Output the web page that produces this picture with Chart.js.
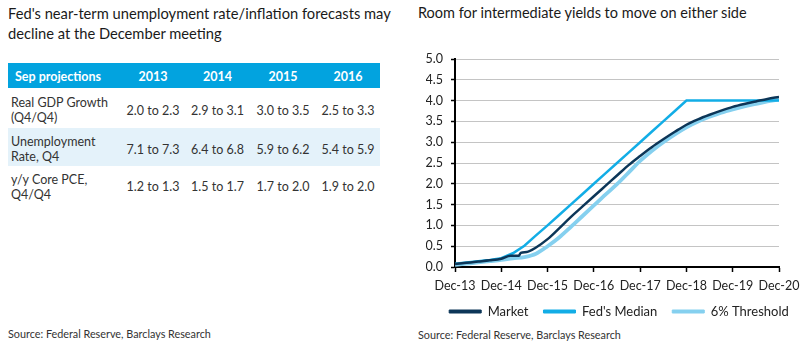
<!DOCTYPE html>
<html><head><meta charset="utf-8">
<script src="https://cdn.jsdelivr.net/npm/chart.js@4.4.1/dist/chart.umd.min.js"></script>
<style>
html,body{margin:0;padding:0}
body{width:812px;height:345px;background:#fff;font-family:Lato,"Open Sans",sans-serif;color:#222;position:relative;overflow:hidden}
.t{position:absolute;white-space:nowrap}
.title{line-height:20px;color:#1a1a1a}
.src{font-size:10.8px;color:#333}
table{position:absolute;left:8px;top:63px;border-collapse:collapse;font-size:12.5px;line-height:15px;color:#333}
th{background:#02a3df;color:#fff;font-weight:700;height:25px;padding:2px 0 0 0;box-sizing:border-box;font-size:12.5px}
td{padding:4px 0 0 0}
td.lab{text-align:left;padding-left:3px}
th.lab{text-align:left;padding-left:7px}
td.val,th.val{text-align:center}
tr.alt td{background:#e4f2fa}
#chartBox{position:absolute;left:405px;top:40px;width:407px;height:290px}
</style></head><body>
<div class="t title" style="left:8px;top:3px;font-size:14.7px">Fed's near-term unemployment rate/inflation forecasts may<br>decline at the December meeting</div>
<div class="t title" style="left:418px;top:3px;font-size:14.5px">Room for intermediate yields to move on either side</div>
<table id="tbl"></table>
<div class="t src" style="left:8px;top:327px">Source: Federal Reserve, Barclays Research</div>
<div class="t src" style="left:418px;top:328px">Source: Federal Reserve, Barclays Research</div>
<div id="chartBox"><canvas id="c" width="407" height="290"></canvas></div>
<script>
// ---- table data ----
const tableHeader = 'Sep projections';
const tableYears = ['2013', '2014', '2015', '2016'];
const rowLabels = [['Real GDP Growth', '(Q4/Q4)'], ['Unemployment', 'Rate, Q4'], ['y/y Core PCE,', 'Q4/Q4']];
const gdpRange = ['2.0 to 2.3', '2.9 to 3.1', '3.0 to 3.5', '2.5 to 3.3'];
const unempRange = ['7.1 to 7.3', '6.4 to 6.8', '5.9 to 6.2', '5.4 to 5.9'];
const pceRange = ['1.2 to 1.3', '1.5 to 1.7', '1.7 to 2.0', '1.9 to 2.0'];

// ---- chart data ----
const xTickLabels = ['Dec-13', 'Dec-14', 'Dec-15', 'Dec-16', 'Dec-17', 'Dec-18', 'Dec-19', 'Dec-20'];
const seriesNames = ['Market', "Fed's Median", '6% Threshold'];
// years since Dec-13
const quarterT = [0, 0.25, 0.5, 0.75, 1, 1.25, 1.5, 1.75, 2, 2.25, 2.5, 2.75, 3, 3.25, 3.5, 3.75, 4, 4.25, 4.5, 4.75, 5, 5.25, 5.5, 5.75, 6, 6.25, 6.5, 6.75, 7];
const fedMedian = [0.08, 0.11, 0.14, 0.17, 0.21, 0.33, 0.51, 0.76, 1.00, 1.25, 1.50, 1.75, 2.00, 2.25, 2.50, 2.75, 3.00, 3.25, 3.50, 3.75, 4.00, 4.00, 4.00, 4.00, 4.00, 4.00, 4.00, 4.00, 4.00];
const threshold = [0.05, 0.08, 0.11, 0.14, 0.17, 0.21, 0.24, 0.32, 0.50, 0.71, 0.96, 1.22, 1.48, 1.74, 1.99, 2.27, 2.55, 2.79, 3.00, 3.19, 3.36, 3.50, 3.61, 3.71, 3.79, 3.86, 3.92, 3.98, 4.03];
const marketT = [0, 0.25, 0.5, 0.75, 1, 1.2, 1.38, 1.42, 1.55, 1.75, 2, 2.25, 2.5, 2.75, 3, 3.25, 3.5, 3.75, 4, 4.25, 4.5, 4.75, 5, 5.25, 5.5, 5.75, 6, 6.25, 6.5, 6.75, 7];
const market = [0.07, 0.10, 0.13, 0.16, 0.20, 0.27, 0.27, 0.34, 0.36, 0.47, 0.67, 0.93, 1.20, 1.45, 1.70, 1.95, 2.20, 2.45, 2.67, 2.88, 3.07, 3.25, 3.42, 3.55, 3.66, 3.76, 3.85, 3.92, 3.98, 4.04, 4.09];

// build table
(function () {
  const tbl = document.getElementById('tbl');
  const widths = [113, 64, 65, 66, 64];
  let html = '<colgroup>' + widths.map(w => '<col style="width:' + w + 'px">').join('') + '</colgroup>';
  html += '<tr><th class="lab">' + tableHeader + '</th>' + tableYears.map(y => '<th class="val">' + y + '</th>').join('') + '</tr>';
  const rows = [gdpRange, unempRange, pceRange];
  const heights = [40, 38, 37];
  rows.forEach((r, i) => {
    html += '<tr class="' + (i === 1 ? 'alt' : '') + '" style="height:' + heights[i] + 'px"><td class="lab">' + rowLabels[i].join('<br>') + '</td>' +
      r.map(v => '<td class="val">' + v + '</td>').join('') + '</tr>';
  });
  tbl.innerHTML = html;
})();

const mk = (xs, ys) => xs.map((x, i) => ({ x: x, y: ys[i] }));

new Chart(document.getElementById('c'), {
  type: 'line',
  data: {
    datasets: [
      { label: seriesNames[0], data: mk(marketT, market), borderColor: '#0c3658', backgroundColor: '#0c3658', borderWidth: 2.5, pointRadius: 0, cubicInterpolationMode: 'monotone' },
      { label: seriesNames[1], data: mk(quarterT, fedMedian), borderColor: '#12ade6', backgroundColor: '#12ade6', borderWidth: 2.5, pointRadius: 0, tension: 0 },
      { label: seriesNames[2], data: mk(quarterT, threshold), borderColor: '#85d0ef', backgroundColor: '#85d0ef', borderWidth: 3.8, pointRadius: 0, cubicInterpolationMode: 'monotone' }
    ]
  },
  options: {
    responsive: false,
    animation: false,
    devicePixelRatio: 1,
    layout: { padding: { left: 21, right: 0, top: 19, bottom: 2 } },
    plugins: {
      tooltip: { enabled: false },
      legend: {
        position: 'bottom',
        labels: {
          boxWidth: 32, boxHeight: 3, padding: 15, color: '#222',
          font: { family: 'Lato', size: 13 },
          generateLabels: function (chart) {
            return Chart.defaults.plugins.legend.labels.generateLabels(chart).map(l => { l.lineWidth = 1; return l; });
          }
        }
      }
    },
    scales: {
      x: {
        type: 'linear', min: 0, max: 7,
        afterFit: function (s) { s.paddingRight = 33; s.paddingLeft = 0; s.height = 23; },
        ticks: { stepSize: 1, autoSkip: false, maxRotation: 0, padding: 6, color: '#222', font: { family: 'Lato', size: 12.5 },
          callback: function (v) { return xTickLabels[v]; } },
        grid: { drawOnChartArea: false, tickLength: 5, tickColor: '#000', tickWidth: 1.5 },
        border: { color: '#000', width: 2 }
      },
      y: {
        min: 0, max: 5,
        afterFit: function (s) { s.width = 29; },
        ticks: { stepSize: 0.5, padding: 8, color: '#222', font: { family: 'Lato', size: 12.5 },
          callback: function (v) { return v.toFixed(1); } },
        grid: { color: '#c4c4c4', lineWidth: 1, tickLength: 4, tickColor: '#000', tickWidth: 1.5 },
        border: { color: '#000', width: 2 }
      }
    }
  }
});
</script>
</body></html>
